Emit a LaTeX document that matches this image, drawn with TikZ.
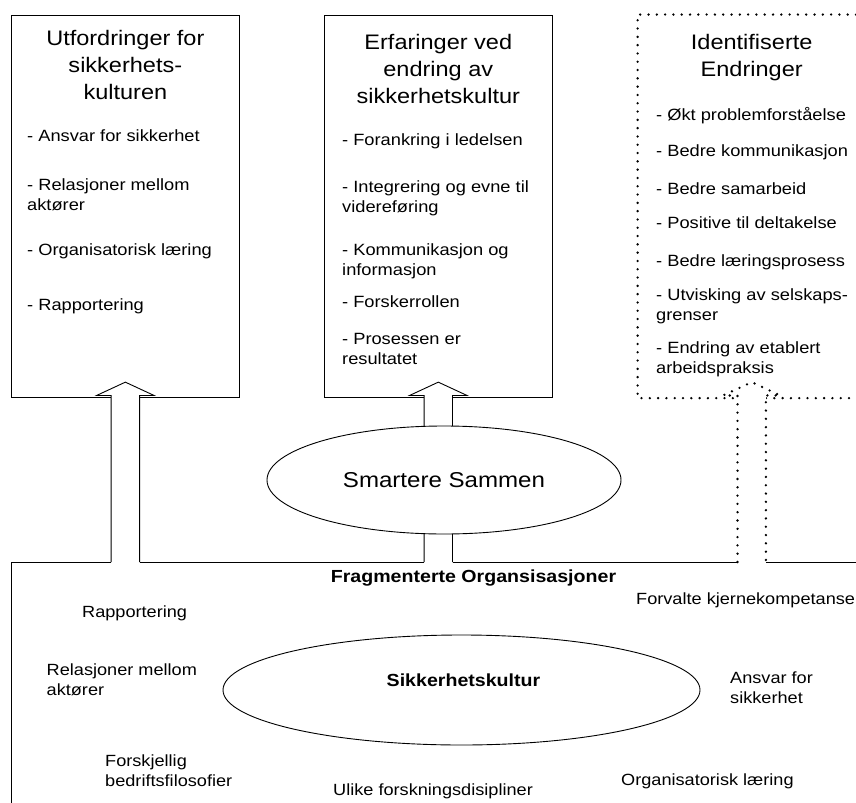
\documentclass[tikz,border=0pt]{standalone}
\usepackage{fontspec}
\setmainfont{Liberation Sans}[FakeStretch=1.12]
\usepackage{tikz}
\usetikzlibrary{calc,shapes.geometric}
\newcommand{\blockup}[2][]{%
  \draw[#1] ($(#2.south |- orgtop)+(-14.2,0)$) -- ($(#2.south)+(-14.2,-2.7)$) -- ++(-14.5,0)
    -- ($(#2.south)+(0,-16)$) -- ($(#2.south)+(28.7,-2.7)$) -- ++(-14.5,0)
    -- ($(#2.south |- orgtop)+(14.2,0)$);}

\begin{document}
\begin{tikzpicture}[x=1bp,y=-1bp,
    box/.style={draw,line width=0.9bp,minimum width=227.3bp,minimum height=382.7bp,inner sep=0},
    ttl/.style={font=\fontsize{21bp}{27bp}\selectfont,align=center,anchor=north,inner sep=0},
    itm/.style={font=\fontsize{16.3bp}{20bp}\selectfont,align=left,anchor=north west,inner sep=0},
    low/.style={font=\fontsize{16.2bp}{19.5bp}\selectfont,align=left,inner sep=0},
    lowbold/.style={font=\fontsize{17.5bp}{20bp}\selectfont\bfseries,anchor=base,inner sep=0},
    oval/.style={ellipse,draw,line width=0.9bp,fill=white,inner sep=0},
    blk/.style={draw,line width=0.9bp,fill=white},
    dots/.style={line width=2.6bp,line cap=round,dash pattern=on 0bp off 8.3bp}]
  \useasboundingbox (0,0) rectangle (856,803);
  \node[box] (ufo) at (125.35,206.35) {};
  \node[box] (erf) at (438.3,206.35) {};
  \node[box,draw=none] (idf) at (751.7,206.35) {};
  \coordinate (orgtop) at (11.7,562);
  \coordinate (orgbot) at (11.7,806);
  \coordinate (rim) at (856,0);
  \draw[dots] (idf.north west -| rim) -- (idf.north west) -- (idf.south west) -- (idf.south west -| rim);
  \draw[line width=0.9bp] ($(ufo.south |- orgtop)+(-14.2,0)$) -- (orgtop) -- (orgbot);
  \foreach \a/\b in {ufo/erf,erf/idf}
    \draw[line width=0.9bp] ($(\a.south |- orgtop)+(14.2,0)$) -- ($(\b.south |- orgtop)+(-14.2,0)$);
  \draw[line width=0.9bp] ($(idf.south |- orgtop)+(14.2,0)$) -- (orgtop -| rim);
  \blockup[blk]{ufo}
  \blockup[blk]{erf}
  \blockup[blk,dots]{idf}

  \node[ttl] (ufot) at (125.35,30.5) {Utfordringer for\\sikkerhets-\\kulturen};
  \node[itm] (ufo1) at (27,129.8) {- Ansvar for sikkerhet};
  \node[itm] (ufo2) at (27,178.8) {- Relasjoner mellom\\aktører};
  \node[itm] (ufo3) at (27,243.1) {- Organisatorisk læring};
  \node[itm] (ufo4) at (27,298.1) {- Rapportering};

  \node[ttl] (erft) at (438.3,34.2) {Erfaringer ved\\endring av\\sikkerhetskultur};
  \node[itm] (erf1) at (342,133.8) {- Forankring i ledelsen};
  \node[itm] (erf2) at (342,180.4) {- Integrering og evne til\\videreføring};
  \node[itm] (erf3) at (342,243.1) {- Kommunikasjon og\\informasjon};
  \node[itm] (erf4) at (342,295.4) {- Forskerrollen};
  \node[itm] (erf5) at (342,333.1) {- Prosessen er\\resultatet};

  \node[ttl] (idft) at (751.7,34.2) {Identifiserte\\Endringer};
  \node[itm] (idf1) at (656,106.9) {- Økt problemforståelse};
  \node[itm] (idf2) at (656,144.9) {- Bedre kommunikasjon};
  \node[itm] (idf3) at (656,182.9) {- Bedre samarbeid};
  \node[itm] (idf4) at (656,216.9) {- Positive til deltakelse};
  \node[itm] (idf5) at (656,254.9) {- Bedre læringsprosess};
  \node[itm] (idf6) at (656,288.9) {- Utvisking av selskaps-\\grenser};
  \node[itm] (idf7) at (656,341.9) {- Endring av etablert\\arbeidspraksis};

  \node[oval,minimum width=354bp,minimum height=108bp,font=\fontsize{21.5bp}{24bp}\selectfont] (smart) at (444,480) {Smartere Sammen};

  \node[lowbold] (frag) at (473.5,582.7) {Fragmenterte Organsisasjoner};
  \node[low,anchor=base west] (kjerne) at (636,604) {Forvalte kjernekompetanse};
  \node[low,anchor=base west] (rapp) at (82,617) {Rapportering};
  \node[low,anchor=north west] (rel) at (46.5,663.9) {Relasjoner mellom\\aktører};
  \node[oval,minimum width=477bp,minimum height=110bp] (sik) at (461.5,690) {};
  \node[lowbold] (sikt) at (463.5,686) {Sikkerhetskultur};
  \node[low,anchor=north west] (ansv) at (730,671.9) {Ansvar for\\sikkerhet};
  \node[low,anchor=north west] (filo) at (105,754.9) {Forskjellig\\bedriftsfilosofier};
  \node[low,anchor=base west] (disp) at (333,795.7) {Ulike forskningsdisipliner};
  \node[low,anchor=base west] (laer) at (621,785.7) {Organisatorisk læring};
\end{tikzpicture}
\end{document}
